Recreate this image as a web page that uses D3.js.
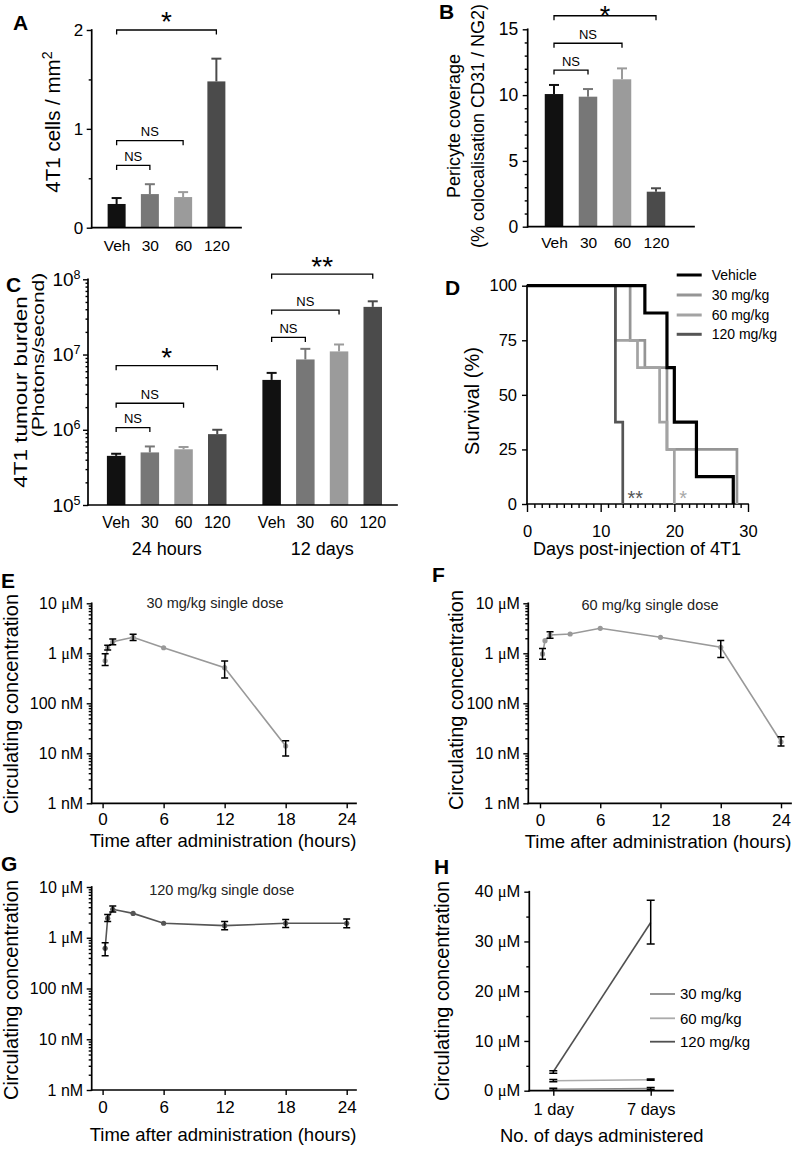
<!DOCTYPE html>
<html>
<head>
<meta charset="utf-8">
<script src="https://cdn.jsdelivr.net/npm/d3@7"></script>
<style>
  body { margin: 0; background: #fff; }
  svg { display: block; }
</style>
</head>
<body>
<svg id="fig" width="796" height="1149"></svg>
<script>
// ===================== DATA =====================
const doseCats = ["Veh", "30", "60", "120"];
const doseColors = ["#111111", "#777777", "#9b9b9b", "#4b4b4b"];

// Panel A: 4T1 cells / mm2
const cellsMean = [0.24, 0.34, 0.31, 1.48];
const cellsUpper = [0.30, 0.44, 0.36, 1.71];
const cellsTicks = [0, 1, 2];
const cellsMinorTicks = [0.5, 1.5];
const cellsBrackets = [
  { from: "Veh", to: "120", level: 2.0, label: "*" },
  { from: "Veh", to: "60", level: 0.88, label: "NS" },
  { from: "Veh", to: "30", level: 0.63, label: "NS" }
];

// Panel B: pericyte coverage
const pericyteMean = [10.08, 9.88, 11.2, 2.66];
const pericyteUpper = [10.77, 10.46, 12.03, 2.92];
const pericyteTicks = [0, 5, 10, 15];
const pericyteMinorTicks = [1, 2, 3, 4, 6, 7, 8, 9, 11, 12, 13, 14];
const pericyteBrackets = [
  { from: "Veh", to: "120", level: 16.03, label: "*" },
  { from: "Veh", to: "60", level: 13.94, label: "NS" },
  { from: "Veh", to: "30", level: 11.9, label: "NS" }
];

// Panel C: tumour burden (photons/second)
const burdenGroups = ["24 hours", "12 days"];
const burden24hMean = [4.5e5, 5.0e5, 5.5e5, 8.75e5];
const burden24hUpper = [4.8e5, 6.0e5, 5.9e5, 1.0e6];
const burden12dMean = [4.6e6, 8.6e6, 1.1e7, 4.3e7];
const burden12dUpper = [5.7e6, 1.19e7, 1.36e7, 5.1e7];
const burdenTicks = [1e5, 1e6, 1e7, 1e8];
const burdenBrackets = [
  { group: "24 hours", from: "Veh", to: "120", level: 7.1e6, label: "*" },
  { group: "24 hours", from: "Veh", to: "60", level: 2.25e6, label: "NS" },
  { group: "24 hours", from: "Veh", to: "30", level: 1.07e6, label: "NS" },
  { group: "12 days", from: "Veh", to: "120", level: 1.17e8, label: "**" },
  { group: "12 days", from: "Veh", to: "60", level: 3.9e7, label: "NS" },
  { group: "12 days", from: "Veh", to: "30", level: 1.69e7, label: "NS" }
];

// Panel D: survival (days, %)
const survivalNames = ["Vehicle", "30 mg/kg", "60 mg/kg", "120 mg/kg"];
const survivalColors = ["#000000", "#959595", "#a3a3a3", "#555555"];
const survVehicle = [[0, 100], [16, 87.5], [19, 62.5], [20, 37.5], [23, 12.5], [28, 0]];
const surv30 = [[0, 100], [14, 75], [16, 62.5], [19, 25], [28.5, 0]];
const surv60 = [[0, 100], [12, 75], [15, 62.5], [18, 37.5], [19, 25], [20, 0]];
const surv120 = [[0, 100], [12, 37.5], [13, 0]];
const survYTicks = [0, 25, 50, 75, 100];
const survXTicks = [0, 10, 20, 30];
const survStars = [{ day: 14.7, label: "**", color: "#555555" }, { day: 21.2, label: "*", color: "#a8a8a8" }];

// Panels E-G: circulating concentration (µM) after single dose
const pkTimes = [0.25, 0.5, 1, 3, 6, 12, 18, 24];
const pkTimeTicks = [0, 6, 12, 18, 24];
const pkTickValues = [0.001, 0.01, 0.1, 1, 10];
const pkTickLabels = ["1 nM", "10 nM", "100 nM", "1 μM", "10 μM"];
const pk30Mean = [0.71, 1.3, 1.7, 2.09, 1.29, 0.515, 0.014];
const pk30Low = [0.57, 1.17, 1.48, 1.8, null, 0.32, 0.0088];
const pk30High = [0.98, 1.45, 1.93, 2.4, null, 0.7, 0.0178];
const pk60Mean = [0.97, 1.79, 2.32, 2.43, 3.16, 2.09, 1.32, 0.017];
const pk60Low = [0.76, null, 2.0, null, null, null, 0.82, 0.014];
const pk60High = [1.25, null, 2.7, null, null, null, 1.8, 0.0215];
const pk120Mean = [0.62, 2.42, 3.63, 3.02, 1.93, 1.73, 1.93, 1.93];
const pk120Low = [0.44, 2.09, 3.2, null, null, 1.43, 1.6, 1.58];
const pk120High = [0.80, 2.87, 4.2, null, null, 2.1, 2.3, 2.34];

// Panel H: repeat dosing (µM)
const hDays = ["1 day", "7 days"];
const hNames = ["30 mg/kg", "60 mg/kg", "120 mg/kg"];
const hColors = ["#8a8a8a", "#ababab", "#505050"];
const h30Mean = [0.3, 0.45];
const h30Low = [0.1, 0.25];
const h30High = [0.5, 0.65];
const h60Mean = [2.0, 2.2];
const h60Low = [1.8, 2.1];
const h60High = [2.25, 2.35];
const h120Mean = [3.8, 33.8];
const h120Low = [3.5, 29.5];
const h120High = [4.0, 38.3];
const hTicks = [0, 10, 20, 30, 40];
const hMinorTicks = [5, 15, 25, 35];

// ===================== HELPERS =====================
const FONT = "'Liberation Sans', Arial, Helvetica, sans-serif";
const SERIF = "'Liberation Serif', 'Times New Roman', serif";
const svg = d3.select("#fig").attr("font-family", FONT);
svg.append("rect").attr("width", 796).attr("height", 1149).attr("fill", "#fff");

function styleAxis(a, fs) {
  a.attr("font-family", FONT).attr("font-size", fs);
  a.selectAll("line").attr("stroke", "#000").attr("stroke-width", 1.4);
  a.selectAll("text").attr("fill", "#000");
}
function leftTicks(g, scale, x, values, len, fmt, fs, gap) {
  const a = g.append("g").attr("transform", `translate(${x},0)`)
    .call(d3.axisLeft(scale).tickValues(values).tickSize(len).tickSizeOuter(0)
      .tickPadding(gap || 3).tickFormat(fmt || (() => "")));
  a.select(".domain").remove();
  styleAxis(a, fs || 10);
  return a;
}
function bottomTicks(g, scale, y, values, len, fmt, fs, baseline) {
  const a = g.append("g").attr("transform", `translate(0,${y})`)
    .call(d3.axisBottom(scale).tickValues(values).tickSize(len).tickSizeOuter(0)
      .tickFormat(fmt || (() => "")));
  a.select(".domain").remove();
  styleAxis(a, fs || 10);
  if (baseline != null) a.selectAll("text").attr("y", baseline).attr("dy", null);
  return a;
}
function axisLine(g, x1, y1, x2, y2) {
  g.append("line").attr("x1", x1).attr("y1", y1).attr("x2", x2).attr("y2", y2)
    .attr("stroke", "#000").attr("stroke-width", 1.7).attr("stroke-linecap", "square");
}
function vText(g, x, yc, str, fs, squeeze) {
  return g.append("text")
    .attr("transform", `translate(${x},${yc}) rotate(-90)` + (squeeze ? ` scale(1,${squeeze})` : ""))
    .attr("text-anchor", "middle").attr("font-size", fs).attr("fill", "#000").text(str);
}
function hText(g, x, y, str, fs, anchor, weight, color) {
  return g.append("text").attr("x", x).attr("y", y).attr("font-size", fs)
    .attr("text-anchor", anchor || "middle").attr("font-weight", weight || "normal")
    .attr("fill", color || "#000").text(str);
}
function muText(sel, str) {
  sel.text(null);
  const parts = str.split("μ");
  sel.append("tspan").text(parts[0]);
  if (parts.length > 1) {
    sel.append("tspan").attr("font-family", SERIF).text("μ");
    sel.append("tspan").text(parts[1]);
  }
}
function drawBrackets(g, list, xOf, yScale, starOffset, starSize) {
  list.forEach(b => {
    const x1 = xOf(b, b.from), x2 = xOf(b, b.to), y = yScale(b.level);
    g.append("path").attr("d", `M${x1},${y + 4.5}V${y}H${x2}V${y + 4.5}`)
      .attr("fill", "none").attr("stroke", "#000").attr("stroke-width", 1.3);
    if (b.label === "NS") hText(g, (x1 + x2) / 2, y - 4.5, "NS", 13);
    else hText(g, (x1 + x2) / 2, y + starOffset, b.label, starSize);
  });
}
function drawBars(g, cats, means, uppers, xOf, yScale, base, width, cap) {
  cats.forEach((c, i) => {
    const cx = xOf(c), col = doseColors[i];
    g.append("rect").attr("x", cx - width / 2).attr("width", width)
      .attr("y", yScale(means[i])).attr("height", yScale(base) - yScale(means[i]))
      .attr("fill", col);
    g.append("line").attr("x1", cx).attr("x2", cx)
      .attr("y1", yScale(means[i])).attr("y2", yScale(uppers[i]))
      .attr("stroke", col).attr("stroke-width", 2);
    g.append("line").attr("x1", cx - cap).attr("x2", cx + cap)
      .attr("y1", yScale(uppers[i])).attr("y2", yScale(uppers[i]))
      .attr("stroke", col).attr("stroke-width", 2);
  });
}
function panelLetter(x, y, s) { hText(svg, x, y, s, 21, "start", "bold"); }

// ===================== PANEL A =====================
{
  const g = svg.append("g");
  const x = d3.scalePoint().domain(doseCats).range([100, 233]).padding(0.5);
  const y = d3.scaleLinear().domain([0, 2]).range([227.7, 30]);
  drawBars(g, doseCats, cellsMean, cellsUpper, c => x(c), y, 0, 18, 5);
  axisLine(g, 91.7, y(2), 91.7, y(0));
  axisLine(g, 91.7, y(0), 241, y(0));
  leftTicks(g, y, 91.7, cellsTicks, 5, d3.format("d"), 17, 3.5);
  leftTicks(g, y, 91.7, cellsMinorTicks, 3);
  bottomTicks(g, x, y(0), doseCats, 0, d => d, 15.5, 23);
  drawBrackets(g, cellsBrackets, (b, c) => x(c), y, 0.5, 28);
  const t = vText(g, 59.5, 122, "4T1 cells / mm", 20.5);
  t.append("tspan").attr("dy", "-0.5em").attr("font-size", "0.7em").text("2");
  panelLetter(13, 30, "A");
}

// ===================== PANEL B =====================
{
  const g = svg.append("g");
  const x = d3.scalePoint().domain(doseCats).range([537, 673]).padding(0.5);
  const y = d3.scaleLinear().domain([0, 15]).range([226.7, 29.3]);
  drawBars(g, doseCats, pericyteMean, pericyteUpper, c => x(c), y, 0, 18.5, 5);
  axisLine(g, 527.7, y(15), 527.7, y(0));
  axisLine(g, 527.7, y(0), 694, y(0));
  leftTicks(g, y, 527.7, pericyteTicks, 5, d3.format("d"), 17.5, 4.5);
  leftTicks(g, y, 527.7, pericyteMinorTicks, 3);
  bottomTicks(g, x, y(0), doseCats, 0, d => d, 15.5, 21.5);
  drawBrackets(g, pericyteBrackets, (b, c) => x(c), y, 9, 27);
  vText(g, 460, 126, "Pericyte coverage", 18);
  vText(g, 484, 126, "(% colocalisation CD31 / NG2)", 18);
  panelLetter(439, 19, "B");
}

// ===================== PANEL C =====================
{
  const g = svg.append("g");
  const gx = d3.scaleBand().domain(burdenGroups).range([99.3, 389.6]).paddingInner(0.133);
  const ix = d3.scalePoint().domain(doseCats).range([0, gx.bandwidth()]).padding(0.5);
  const y = d3.scaleLog().domain([1e5, 1e8]).range([505, 279.3]);
  const means = [burden24hMean, burden12dMean], uppers = [burden24hUpper, burden12dUpper];
  burdenGroups.forEach((grp, gi) => {
    drawBars(g, doseCats, means[gi], uppers[gi], c => gx(grp) + ix(c), y, 1e5, 18.5, 5);
    doseCats.forEach(c => hText(g, gx(grp) + ix(c), 528, c, 16));
    hText(g, gx(grp) + gx.bandwidth() / 2, 555, grp, 18);
  });
  axisLine(g, 88, y(1e8), 88, y(1e5));
  axisLine(g, 88, y(1e5), 397, y(1e5));
  const minor = [];
  [1e5, 1e6, 1e7].forEach(d => { for (let k = 2; k <= 9; k++) minor.push(d * k); });
  leftTicks(g, y, 88, minor, 2.5);
  const a = leftTicks(g, y, 88, burdenTicks, 5, () => "", 19, 2.5);
  a.selectAll(".tick text").each(function (d) {
    const t = d3.select(this);
    t.append("tspan").text("10");
    t.append("tspan").attr("dy", "-0.55em").attr("font-size", "0.66em").text(Math.round(Math.log10(d)));
  });
  drawBrackets(g, burdenBrackets, (b, c) => gx(b.group) + ix(c), y, 1.5, 28);
  vText(g, 27, 392, "4T1 tumour burden", 22.5, 0.85);
  vText(g, 43.5, 355, "(Photons/second)", 21, 0.76);
  panelLetter(6, 292, "C");
}

// ===================== PANEL D =====================
{
  const g = svg.append("g");
  const x = d3.scaleLinear().domain([0, 30]).range([527, 748]);
  const y = d3.scaleLinear().domain([0, 100]).range([504, 285.7]);
  axisLine(g, 527, y(100), 527, y(0));
  axisLine(g, 527, y(0), 748, y(0));
  const minorX = d3.range(1, 30).filter(d => d % 10 !== 0);
  bottomTicks(g, x, y(0), minorX, 4);
  bottomTicks(g, x, y(0), survXTicks, 8, d3.format("d"), 16.5, 32.7);
  leftTicks(g, y, 527, survYTicks, 5, d3.format("d"), 16.5, 5);
  const line = d3.line().x(d => x(d[0])).y(d => y(d[1])).curve(d3.curveStepAfter);
  const series = [surv30, surv60, surv120, survVehicle];
  const cols = [survivalColors[1], survivalColors[2], survivalColors[3], survivalColors[0]];
  const widths = [2.7, 2.7, 2.7, 3.2];
  series.forEach((s, i) => g.append("path").attr("d", line(s)).attr("fill", "none")
    .attr("stroke", cols[i]).attr("stroke-width", widths[i]).attr("stroke-linejoin", "miter"));
  survStars.forEach(s => hText(g, x(s.day), y(0) + 0.5, s.label, 20, "middle", "normal", s.color));
  const legY = [275, 295, 315, 334.3];
  survivalNames.forEach((n, i) => {
    g.append("line").attr("x1", 676.7).attr("x2", 701.7).attr("y1", legY[i]).attr("y2", legY[i])
      .attr("stroke", survivalColors[i]).attr("stroke-width", 3);
    hText(g, 711.7, legY[i], n, 14, "start").attr("dy", "0.35em");
  });
  vText(g, 479, 401, "Survival (%)", 20);
  hText(g, 637, 555, "Days post-injection of 4T1", 18);
  panelLetter(445, 295, "D");
}

// ===================== PANELS E, F, G =====================
function pkPanel(opt) {
  const g = svg.append("g");
  const x = d3.scaleLinear().domain([0, 24]).range([opt.x0, opt.x24]);
  const y = d3.scaleLog().domain([0.001, 10]).range([opt.yBottom, opt.yTop]);
  axisLine(g, opt.ax, y(10), opt.ax, y(0.001));
  axisLine(g, opt.ax, y(0.001), opt.xEnd, y(0.001));
  const minor = [];
  [0.001, 0.01, 0.1, 1].forEach(d => { for (let k = 2; k <= 9; k++) minor.push(d * k); });
  leftTicks(g, y, opt.ax, minor, 3);
  const a = leftTicks(g, y, opt.ax, pkTickValues, 5, (d, i) => pkTickLabels[i], 16, 3.5);
  a.selectAll(".tick text").each(function () { muText(d3.select(this), this.textContent); });
  bottomTicks(g, x, y(0.001), pkTimeTicks, 5, d3.format("d"), 17, opt.tickBase);
  const pts = opt.mean.map((m, i) => ({ t: pkTimes[i], m, lo: opt.low[i], hi: opt.high[i] }));
  g.append("path").attr("d", d3.line().x(d => x(d.t)).y(d => y(d.m))(pts))
    .attr("fill", "none").attr("stroke", opt.color).attr("stroke-width", 1.6);
  pts.forEach(p => {
    g.append("circle").attr("cx", x(p.t)).attr("cy", y(p.m)).attr("r", 2.6).attr("fill", opt.color);
    if (p.lo != null) {
      const cx = x(p.t);
      g.append("path").attr("d",
        `M${cx - 3.5},${y(p.hi)}H${cx + 3.5}M${cx},${y(p.hi)}V${y(p.lo)}M${cx - 3.5},${y(p.lo)}H${cx + 3.5}`)
        .attr("fill", "none").attr("stroke", "#000").attr("stroke-width", 1.5);
    }
  });
  hText(g, opt.titleX, opt.titleY, opt.title, 14.5, "middle", "normal", "#222");
  vText(g, opt.labX, opt.labY, "Circulating concentration", 20);
  hText(g, opt.xTitleX, opt.xTitleY, "Time after administration (hours)", 18.5);
  panelLetter(opt.letterX, opt.letterY, opt.letter);
}
pkPanel({ x0: 102.6, x24: 346.7, yTop: 603.3, yBottom: 803.3, ax: 91.7, xEnd: 356,
  tickBase: 21.7, mean: pk30Mean, low: pk30Low, high: pk30High, color: "#999999",
  title: "30 mg/kg single dose", titleX: 215, titleY: 608,
  labX: 18.3, labY: 704, xTitleX: 223, xTitleY: 846.7, letter: "E", letterX: 1, letterY: 588 });
pkPanel({ x0: 540, x24: 781, yTop: 603.3, yBottom: 803.3, ax: 528.3, xEnd: 791,
  tickBase: 22.7, mean: pk60Mean, low: pk60Low, high: pk60High, color: "#999999",
  title: "60 mg/kg single dose", titleX: 650, titleY: 610,
  labX: 462.5, labY: 700, xTitleX: 658, xTitleY: 847.5, letter: "F", letterX: 432, letterY: 582 });
pkPanel({ x0: 102.6, x24: 346.7, yTop: 887, yBottom: 1090, ax: 91.7, xEnd: 356,
  tickBase: 23.3, mean: pk120Mean, low: pk120Low, high: pk120High, color: "#555555",
  title: "120 mg/kg single dose", titleX: 221.7, titleY: 895,
  labX: 18.3, labY: 990, xTitleX: 223, xTitleY: 1140.7, letter: "G", letterX: 1, letterY: 871 });

// ===================== PANEL H =====================
{
  const g = svg.append("g");
  const x = d3.scalePoint().domain(hDays).range([553.3, 650.7]);
  const y = d3.scaleLinear().domain([0, 40]).range([1090.7, 891.7]);
  axisLine(g, 529.3, y(40), 529.3, y(0));
  axisLine(g, 529.3, y(0), 673, y(0));
  leftTicks(g, y, 529.3, hMinorTicks, 3);
  const a = leftTicks(g, y, 529.3, hTicks, 5, d => d + " μM", 16.5, 4);
  a.selectAll(".tick text").each(function () { muText(d3.select(this), this.textContent); });
  bottomTicks(g, x, y(0), hDays, 5, d => d, 16.5, 24.3);
  const means = [h30Mean, h60Mean, h120Mean], lows = [h30Low, h60Low, h120Low], highs = [h30High, h60High, h120High];
  means.forEach((m, si) => {
    const pts = hDays.map((d, i) => ({ d, m: m[i], lo: lows[si][i], hi: highs[si][i] }));
    g.append("path").attr("d", d3.line().x(p => x(p.d)).y(p => y(p.m))(pts))
      .attr("fill", "none").attr("stroke", hColors[si]).attr("stroke-width", 1.6);
    pts.forEach(p => {
      const cx = x(p.d);
      g.append("path").attr("d",
        `M${cx - 4},${y(p.hi)}H${cx + 4}M${cx},${y(p.hi)}V${y(p.lo)}M${cx - 4},${y(p.lo)}H${cx + 4}`)
        .attr("fill", "none").attr("stroke", "#000").attr("stroke-width", 1.5);
    });
  });
  const legY = [994, 1018.3, 1041.7];
  hNames.forEach((n, i) => {
    g.append("line").attr("x1", 650).attr("x2", 675).attr("y1", legY[i]).attr("y2", legY[i])
      .attr("stroke", hColors[i]).attr("stroke-width", 1.8);
    hText(g, 680, legY[i], n, 15, "start").attr("dy", "0.35em");
  });
  vText(g, 449, 991, "Circulating concentration", 20);
  hText(g, 601.7, 1141.7, "No. of days administered", 18.4);
  panelLetter(434, 874, "H");
}
</script>
</body>
</html>
